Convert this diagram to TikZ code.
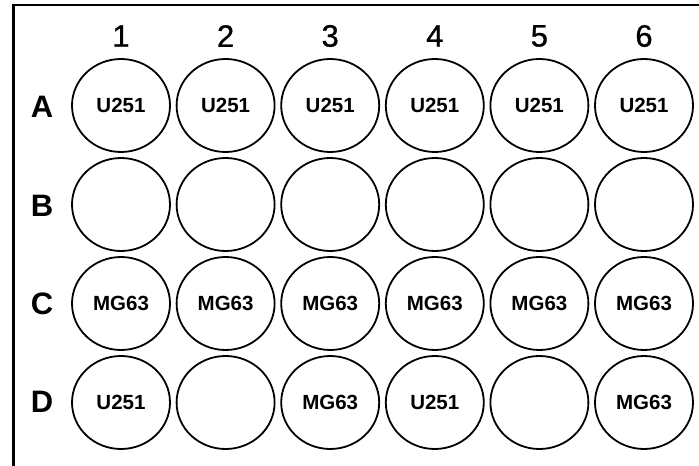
\documentclass[tikz,border=0pt]{standalone}
\usepackage{fontspec}
\setmainfont{Liberation Sans}
\newfontfamily\numfont[FakeBold=0.8]{Liberation Sans}
\usepackage{xcolor}
\usetikzlibrary{shapes.geometric}

\begin{document}
\begin{tikzpicture}[x=1pt,y=1pt,
  well/.style={draw=black,line width=1.8pt,ellipse,minimum width=98pt,minimum height=93pt,inner sep=0pt,font=\bfseries\fontsize{20.5}{22}\selectfont},
  rowlab/.style={inner sep=0pt,font=\bfseries\fontsize{31}{33}\selectfont},
  collab/.style={inner sep=0pt,font=\numfont\fontsize{31}{33}\selectfont}]
\clip (0,0) rectangle (699,466);
\fill[white] (0,0) rectangle (699,466);
\draw[line width=2.8pt] (13.5,-10) -- (13.5,461) -- (710,461);
% column numbers
\node[collab] (col1) at (121,430) {1};
\node[collab] (col2) at (225.6,430) {2};
\node[collab] (col3) at (330.2,430) {3};
\node[collab] (col4) at (434.8,430) {4};
\node[collab] (col5) at (539.4,430) {5};
\node[collab] (col6) at (644,430) {6};
% row letters
\node[rowlab] (rowA) at (42,359) {A};
\node[rowlab] (rowB) at (42,260) {B};
\node[rowlab] (rowC) at (42,162) {C};
\node[rowlab] (rowD) at (42,64) {D};
% row A
\node[well] (A1) at (121,360.5) {U251};
\node[well] (A2) at (225.6,360.5) {U251};
\node[well] (A3) at (330.2,360.5) {U251};
\node[well] (A4) at (434.8,360.5) {U251};
\node[well] (A5) at (539.4,360.5) {U251};
\node[well] (A6) at (644,360.5) {U251};
% row B
\node[well] (B1) at (121,261.5) {};
\node[well] (B2) at (225.6,261.5) {};
\node[well] (B3) at (330.2,261.5) {};
\node[well] (B4) at (434.8,261.5) {};
\node[well] (B5) at (539.4,261.5) {};
\node[well] (B6) at (644,261.5) {};
% row C
\node[well] (C1) at (121,162.5) {MG63};
\node[well] (C2) at (225.6,162.5) {MG63};
\node[well] (C3) at (330.2,162.5) {MG63};
\node[well] (C4) at (434.8,162.5) {MG63};
\node[well] (C5) at (539.4,162.5) {MG63};
\node[well] (C6) at (644,162.5) {MG63};
% row D
\node[well] (D1) at (121,63.5) {U251};
\node[well] (D2) at (225.6,63.5) {};
\node[well] (D3) at (330.2,63.5) {MG63};
\node[well] (D4) at (434.8,63.5) {U251};
\node[well] (D5) at (539.4,63.5) {};
\node[well] (D6) at (644,63.5) {MG63};
\end{tikzpicture}
\end{document}
